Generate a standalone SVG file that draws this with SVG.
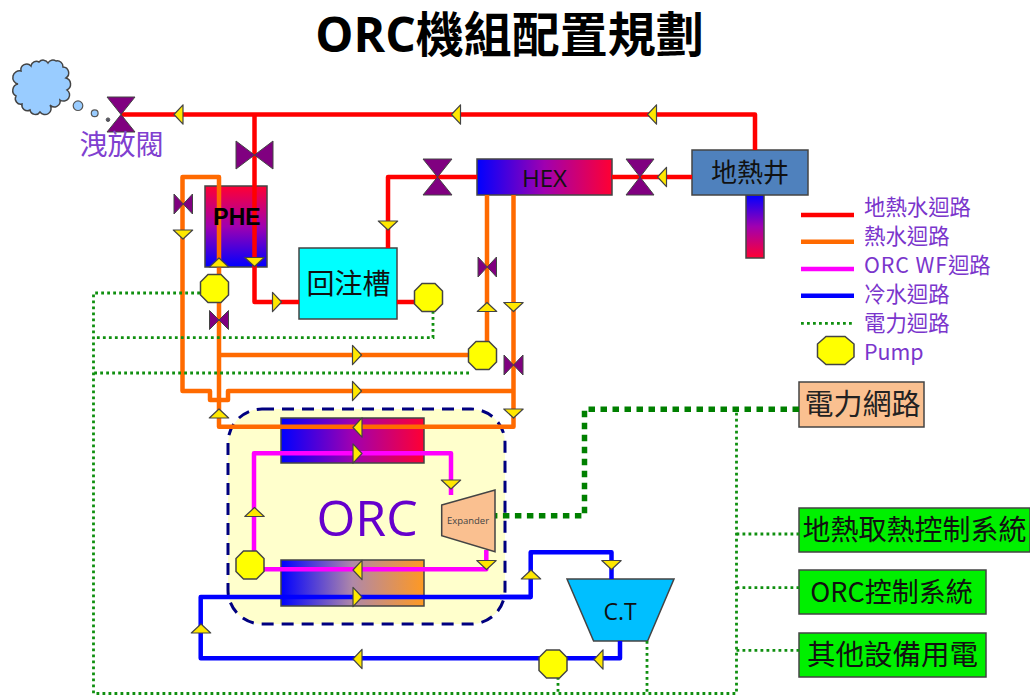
<svg xmlns="http://www.w3.org/2000/svg" width="1030" height="697" viewBox="0 0 1030 697">
<style>
.p{fill:none;stroke-width:4.5;stroke-linejoin:round}
.red{stroke:#ff0000}.or{stroke:#ff6a00}.mg{stroke:#ff00ff}.bl{stroke:#0000ff}
.dot{fill:none;stroke:#0f8f0f;stroke-width:2.8;stroke-dasharray:2.8 3.2}
.dotb{fill:none;stroke:#008000;stroke-width:5.5;stroke-dasharray:6.5 5.5}
.ar{fill:#ffe800;stroke:#444;stroke-width:1.2;stroke-linejoin:round}
.v{fill:#800080;stroke:#444;stroke-width:1}
.box{stroke:#444;stroke-width:1.5}
.pump{fill:#ffff00;stroke:#444;stroke-width:1.5}
.cjk{font-family:"Noto Sans CJK TC","Noto Sans",sans-serif;text-anchor:middle}
.leg{font-family:"Noto Sans CJK TC","Noto Sans",sans-serif;font-size:21.4px;fill:#7a35cc}
</style>
<defs>
<linearGradient id="gH" x1="0" x2="1" y1="0" y2="0"><stop offset="0" stop-color="#0000ff"/><stop offset="0.5" stop-color="#a000b0"/><stop offset="1" stop-color="#ff0033"/></linearGradient>
<linearGradient id="gV" x1="0" x2="0" y1="0" y2="1"><stop offset="0" stop-color="#ff0033"/><stop offset="0.5" stop-color="#a000b0"/><stop offset="1" stop-color="#0000ff"/></linearGradient>
<linearGradient id="gW" x1="0" x2="0" y1="0" y2="1"><stop offset="0" stop-color="#0000ff"/><stop offset="0.5" stop-color="#a000b0"/><stop offset="1" stop-color="#ff0033"/></linearGradient>
<linearGradient id="gO" x1="0" x2="1" y1="0" y2="0"><stop offset="0" stop-color="#0000ff"/><stop offset="0.5" stop-color="#b088a8"/><stop offset="1" stop-color="#ff9922"/></linearGradient>
<polygon id="a" class="ar" points="-4.5,-9.7 4.5,0 -4.5,9.7"/>
<polygon id="o" class="pump" points="-6.5,-14 6.5,-14 14,-6.5 14,6.5 6.5,14 -6.5,14 -14,6.5 -14,-6.5"/>
</defs>
<rect width="1030" height="697" fill="#fff"/>
<text id="title" x="509.500" y="51.500" font-family="'Open Sans','Noto Sans CJK TC',sans-serif" text-anchor="middle" font-size="48" font-weight="700" fill="#000">ORC機組配置規劃</text>

<g id="vent-cloud">
<path d="M18,84 A5.500,5.500 0 0 1 21,71 A5.800,5.800 0 0 1 31,66 A5.500,5.500 0 0 1 39,62 A5.500,5.500 0 0 1 48,63 A5.500,5.500 0 0 1 56,61 A5.800,5.800 0 0 1 63,67 A6,6 0 0 1 66,78 A6.500,6.500 0 0 1 67,90 A6,6 0 0 1 60,100 A5.800,5.800 0 0 1 50,105 A6,6 0 0 1 40,112 A5.500,5.500 0 0 1 30,110 A5.500,5.500 0 0 1 22,104 A5.500,5.500 0 0 1 16,96 A6.500,6.500 0 0 1 18,84 Z" fill="#99ccff" stroke="#444" stroke-width="1.5"/>
<circle cx="78" cy="105.7" r="4.8" fill="#99ccff" stroke="#555" stroke-width="1.2"/>
<circle cx="94.7" cy="113.3" r="3.4" fill="#99ccff" stroke="#555" stroke-width="1.2"/>
<circle cx="108" cy="119.7" r="1.8" fill="#556" stroke="#555"/>
</g>

<g id="orc-zone">
<rect x="228" y="409" width="277" height="215" rx="34" fill="#ffffcc" stroke="#000080" stroke-width="3" stroke-dasharray="12 8"/>
<text x="367" y="536" font-family="'Open Sans','Noto Sans',sans-serif" font-size="50" fill="#6600cc" text-anchor="middle">ORC</text>
</g>
<g id="phe"><rect class="box" x="205" y="186" width="62" height="81" fill="url(#gV)"/></g>
<g id="hex"><rect class="box" x="477" y="159" width="135" height="36" fill="url(#gH)"/></g>
<g id="well"><rect class="box" x="746" y="195" width="18" height="63" fill="url(#gW)"/>
<rect class="box" x="692" y="150" width="116" height="45" fill="#4f81bd"/>
<text x="750" y="182" class="cjk" font-size="26" fill="#111">地熱井</text></g>
<g id="tank"><rect class="box" x="299" y="248" width="98" height="71" fill="#00ffff"/>
<text x="348.500" y="294" class="cjk" font-size="28" fill="#111">回注槽</text></g>
<g id="evap"><rect class="box" x="281" y="418" width="143" height="45" fill="url(#gH)"/></g>
<g id="cond"><rect class="box" x="281" y="560" width="143" height="46" fill="url(#gO)"/></g>
<g id="ct"><polygon class="box" points="567,579 674,579 647.600,641 593.600,641" fill="#00bfff"/>
<text x="620" y="620" font-family="'Open Sans','Noto Sans',sans-serif" font-size="23" fill="#111" text-anchor="middle">C.T</text></g>
<g id="grid"><rect class="box" x="799" y="382" width="125" height="45" fill="#fac090"/>
<text x="862.500" y="415" class="cjk" font-size="29" fill="#222">電力網路</text></g>
<g id="ctl-geo"><rect class="box" x="799" y="508" width="231" height="44" fill="#00f000"/>
<text x="914.500" y="540" class="cjk" font-size="28" fill="#111">地熱取熱控制系統</text></g>
<g id="ctl-orc"><rect class="box" x="799" y="570" width="187" height="44" fill="#00f000"/>
<text x="891.500" y="602" class="cjk" font-size="27" fill="#111">ORC控制系統</text></g>
<g id="ctl-other"><rect class="box" x="799" y="633" width="187" height="44" fill="#00f000"/>
<text x="892.500" y="665" class="cjk" font-size="28.500" fill="#111">其他設備用電</text></g>

<g id="connectors">
<path class="p red" d="M755,150 V114.500 H121"/>
<path class="p red" d="M254.500,114.500 V302 H299"/>
<path class="p red" d="M692,177 H612"/>
<path class="p red" d="M477,177 H388 V248"/>
<path class="p red" d="M397,302 H415"/>
<path class="p or" d="M219,289 V177 H182.500 V391 H210 V400 H228 V391 H513.500"/>
<path class="p or" d="M219,302 V426.700 H513.500 V195"/>
<path class="p or" d="M219,355 H470"/>
<path class="p or" d="M487,195 V342"/>
<path class="p mg" d="M254,552 V453.300 H451 V495"/>
<path class="p mg" d="M486.300,550 V569.300 H264"/>
<path class="p bl" d="M531,597 H200.700 V658.300 H620 V641"/>
<path class="p bl" d="M500,597 H530.700 V552.300 H611.500 V579"/>
<path class="dot" d="M200,293 H93.500 V693.500 H736.500 V409"/>
<path class="dot" d="M433,311 V337.700 H93.500"/>
<path class="dot" d="M469,373 H93.500"/>
<path class="dot" d="M558,677 V693.500"/>
<path class="dot" d="M647,641 V693.500"/>
<path class="dot" d="M736.500,534 H799"/>
<path class="dot" d="M736.500,587.700 H799"/>
<path class="dot" d="M736.500,650.300 H799"/>
<path class="dotb" d="M799,409.300 H584.500 V515.700 H495"/>

<use href="#a" transform="translate(178.500,114.500) rotate(180)"/>
<use href="#a" transform="translate(456,114.500) rotate(180)"/>
<use href="#a" transform="translate(652,114.500) rotate(180)"/>
<use href="#a" transform="translate(662,177) rotate(180)"/>
<use href="#a" transform="translate(388,225.500) rotate(90)"/>
<use href="#a" transform="translate(277,302)"/>
<use href="#a" transform="translate(183,234.500) rotate(90)"/>
<use href="#a" transform="translate(219,262.500) rotate(-90)"/>
<use href="#a" transform="translate(254.500,262) rotate(90)"/>
<use href="#a" transform="translate(357,355)"/>
<use href="#a" transform="translate(357,391)"/>
<use href="#a" transform="translate(487,307) rotate(-90)"/>
<use href="#a" transform="translate(513.500,307) rotate(90)"/>
<use href="#a" transform="translate(219,413.500) rotate(-90)"/>
<use href="#a" transform="translate(513.500,413.500) rotate(90)"/>
<use href="#a" transform="translate(357.500,427.500) rotate(180)"/>
<use href="#a" transform="translate(357.500,453.500)"/>
<use href="#a" transform="translate(254.500,512) rotate(-90)"/>
<use href="#a" transform="translate(451,484.500) rotate(90)"/>
<use href="#a" transform="translate(486.500,565) rotate(90)"/>
<use href="#a" transform="translate(357.500,570) rotate(180)"/>
<use href="#a" transform="translate(357.500,597)"/>
<use href="#a" transform="translate(201,628.500) rotate(-90)"/>
<use href="#a" transform="translate(357.500,659) rotate(180)"/>
<use href="#a" transform="translate(531,574.500) rotate(-90)"/>
<use href="#a" transform="translate(611.500,565) rotate(90)"/>
<use href="#a" transform="translate(598.500,659.500) rotate(180)"/>
</g>

<g id="valve-vent"><path class="v" d="M107,97 H135 L107,132 H135 Z"/></g>
<g id="valve-phe"><path class="v" d="M236,141 V169 L273,141 V169 Z"/></g>
<g id="valve-hex-out"><path class="v" d="M423,159 H452 L423,195 H452 Z"/></g>
<g id="valve-hex-in"><path class="v" d="M626,159 H654 L626,195 H654 Z"/></g>
<g id="valve-1"><path class="v" d="M174,194 V214 L192.500,194 V214 Z"/></g>
<g id="valve-2"><path class="v" d="M209.500,310.500 V329.500 L228.500,310.500 V329.500 Z"/></g>
<g id="valve-3"><path class="v" d="M478,257 V277 L496.500,257 V277 Z"/></g>
<g id="valve-4"><path class="v" d="M504,355 V375 L523,355 V375 Z"/></g>

<g id="pump-1"><use href="#o" x="214.500" y="288.500"/></g>
<g id="pump-2"><use href="#o" x="428.500" y="297.500"/></g>
<g id="pump-3"><use href="#o" x="482.500" y="355.500"/></g>
<g id="pump-4"><use href="#o" x="250" y="565"/></g>
<g id="pump-5"><use href="#o" x="553" y="664"/></g>
<g id="pump-legend"><polygon class="pump" points="826,336.500 845,336.500 854,344 854,357 845,364.500 826,364.500 817.500,357 817.500,344"/></g>

<g id="expander"><polygon class="box" points="441.700,505 495,490 495,551.700 441.700,535.700" fill="#fac090"/>
<text x="468" y="524" font-family="'Open Sans','Noto Sans',sans-serif" font-size="9.500" fill="#444" text-anchor="middle">Expander</text></g>

<text id="phe-label" x="237" y="225" font-family="'Liberation Sans',sans-serif" font-size="23" font-weight="700" text-anchor="middle" fill="#000">PHE</text>
<text id="hex-label" x="544.500" y="187" font-family="'Open Sans','Noto Sans',sans-serif" font-size="24" fill="#111" text-anchor="middle">HEX</text>
<text id="vent-label" x="121.500" y="155" class="cjk" font-size="28" fill="#8040d0">洩放閥</text>

<g id="legend">
<line x1="801" x2="854" y1="215" y2="215" class="p red"/>
<line x1="801" x2="854" y1="241.700" y2="241.700" class="p or"/>
<line x1="801" x2="854" y1="269" y2="269" class="p mg"/>
<line x1="801" x2="854" y1="295.700" y2="295.700" class="p bl"/>
<line x1="801" x2="854" y1="323.300" y2="323.300" class="dot"/>
<text x="864" y="215" class="leg">地熱水迴路</text>
<text x="864" y="244" class="leg">熱水迴路</text>
<text x="864" y="273" class="leg"><tspan letter-spacing="0.9">ORC WF</tspan>迴路</text>
<text x="864" y="302" class="leg">冷水迴路</text>
<text x="864" y="331" class="leg">電力迴路</text>
<text x="864" y="360" class="leg">Pump</text>
</g>
</svg>
